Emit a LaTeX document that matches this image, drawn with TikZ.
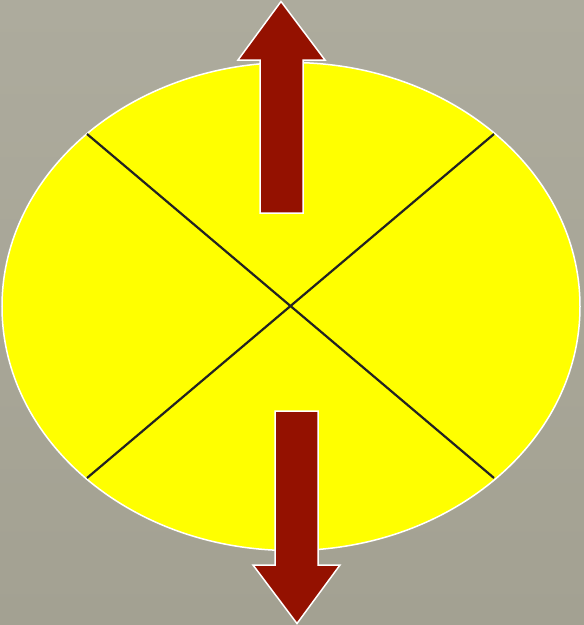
\documentclass[tikz,border=0pt]{standalone}
\definecolor{bgtop}{HTML}{ADAB9D}
\definecolor{bgbot}{HTML}{A3A192}
\definecolor{diskyellow}{HTML}{FFFF00}
\definecolor{arrowred}{HTML}{941100}
\definecolor{crossline}{HTML}{222222}
\tikzset{
  outline/.style={draw=white, line width=1.5pt, line join=miter},
  redarrow/.style={outline, fill=arrowred},
  cross/.style={draw=crossline, line width=2.2pt}
}
\begin{document}
\begin{tikzpicture}[x=1pt,y=-1pt]
\useasboundingbox (0,0) rectangle (584,625);
\shade[top color=bgtop, bottom color=bgbot] (0,0) rectangle (584,625);
% disk
\path[outline, fill=diskyellow] (291,306.5) ellipse [x radius=289, y radius=244];
% cross
\coordinate (tl) at (87,134);
\coordinate (br) at (494,478);
\coordinate (tr) at (494,134);
\coordinate (bl) at (87,478);
\draw[cross] (tl) -- (br);
\draw[cross] (tr) -- (bl);
% up arrow
\path[redarrow] (260,213) -- (260,60) -- (238,60) -- (281,1.5) -- (325,60) -- (303,60) -- (303,213) -- cycle;
% down arrow
\path[redarrow] (275,411) -- (318,411) -- (318,565) -- (340,565) -- (297,623.5) -- (253,565) -- (275,565) -- cycle;
\end{tikzpicture}
\end{document}
